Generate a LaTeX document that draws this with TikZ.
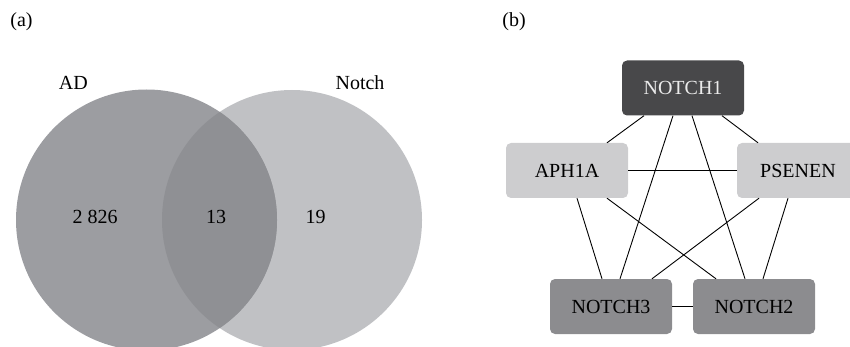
\documentclass[tikz,border=0pt]{standalone}
\usepackage{fontspec}
\setmainfont{Liberation Serif}
\usepackage{tikz}
\usetikzlibrary{positioning}
\definecolor{adgray}{HTML}{9C9DA1}
\definecolor{notchgray}{HTML}{C0C1C4}
\definecolor{bothgray}{HTML}{8F9094}
\definecolor{darkbox}{HTML}{48484A}
\definecolor{midbox}{HTML}{8C8C8F}
\definecolor{lightbox}{HTML}{CDCDCF}

\begin{document}
\begin{tikzpicture}[x=1pt,y=-1pt,font=\fontsize{20}{24}\selectfont,
  gene/.style={rectangle,rounded corners=5pt,minimum width=122pt,minimum height=55pt,inner sep=0pt},
  link/.style={line width=0.9pt}]
\useasboundingbox (0,0) rectangle (850,347);
% (a) Venn diagram
\node (tagA) at (21.5,22) {(a)};
\fill[notchgray] (292,220) circle (130);
\fill[adgray] (146.5,220) circle (130.5);
\begin{scope}
  \clip (146.5,220) circle (130.5);
  \fill[bothgray] (292,220) circle (130);
\end{scope}
\node (setAD) at (73.3,83) {AD};
\node (setNotch) at (360,83) {Notch};
\node (onlyAD) at (95,217) {2 826};
\node (common) at (216,217) {13};
\node (onlyNotch) at (315.5,217) {19};
% (b) interaction network
\node (tagB) at (514,22) {(b)};
\node[gene,fill=darkbox,text=white!92!black] (N1) at (683,88) {NOTCH1};
\node[gene,fill=lightbox] (APH) at (567,170.5) {APH1A};
\node[gene,fill=lightbox] (PS) at (798,170.5) {PSENEN};
\node[gene,fill=midbox] (N3) at (611,306.5) {NOTCH3};
\node[gene,fill=midbox] (N2) at (754,306.5) {NOTCH2};
\draw[link] ([xshift=-39]N1.south) -- ([xshift=40]APH.north);
\draw[link] ([xshift=-10]N1.south) -- ([xshift=9]N3.north);
\draw[link] ([xshift=9]N1.south) -- ([xshift=-9]N2.north);
\draw[link] ([xshift=39]N1.south) -- ([xshift=-40]PS.north);
\draw[link] (APH.east) -- (PS.west);
\draw[link] ([xshift=10]APH.south) -- ([xshift=-9]N3.north);
\draw[link] ([xshift=40]APH.south) -- ([xshift=-38]N2.north);
\draw[link] ([xshift=-39]PS.south) -- ([xshift=41]N3.north);
\draw[link] ([xshift=-10]PS.south) -- ([xshift=9]N2.north);
\draw[link] (N3.east) -- (N2.west);
\end{tikzpicture}
\end{document}
